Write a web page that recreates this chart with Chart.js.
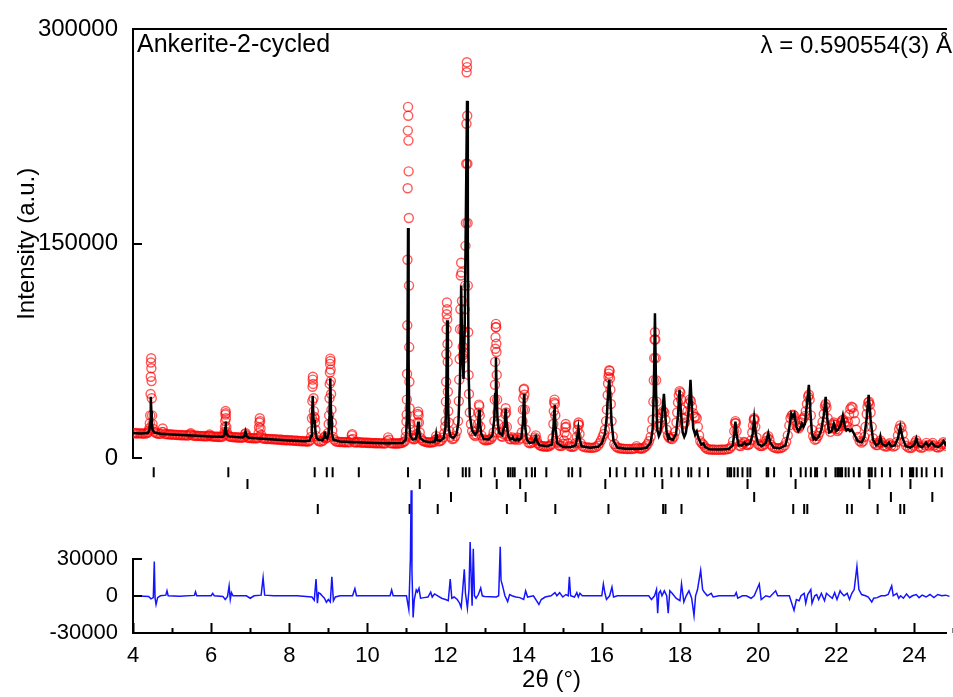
<!DOCTYPE html>
<html>
<head>
<meta charset="utf-8">
<title>Ankerite-2-cycled</title>
<script src="https://cdn.jsdelivr.net/npm/chart.js@4.4.1/dist/chart.umd.min.js"></script>
<style>
  html, body { margin: 0; padding: 0; background: #fff; }
</style>
</head>
<body>
<canvas id="refinement" width="953" height="697"></canvas>
<script>
// observed pattern [2theta, counts]
const observed = [
  [4.00,17600],[4.04,17400],[4.08,17700],[4.12,17300],[4.16,17600],[4.20,17400],[4.24,17200],[4.28,17500],[4.32,17300],[4.36,17600],[4.39,18200],[4.41,19500],
  [4.42,21000],[4.43,24500],[4.44,30000],[4.45,45000],[4.455,57000],[4.46,67000],[4.465,70000],[4.47,63000],[4.475,54000],[4.48,42000],[4.49,30000],[4.50,24000],[4.52,20500],[4.55,18500],[4.59,17600],[4.63,17300],[4.67,17100],[4.71,17200],[4.74,18500],[4.76,20800],[4.78,18300],[4.82,17000],[4.86,16900],[4.90,16700],[4.94,16800],[4.98,16500],
  [5.02,16700],[5.06,16400],[5.10,16500],[5.14,16200],[5.18,16400],[5.22,16100],[5.26,16300],[5.30,16000],[5.34,16200],[5.38,15900],[5.42,16000],[5.46,16800],[5.48,17600],[5.50,16500],[5.54,15800],[5.58,15900],[5.62,15600],[5.66,15800],[5.70,15500],[5.74,15700],[5.78,15400],[5.82,15600],[5.86,15300],[5.90,15400],[5.94,15800],[5.96,16700],[5.98,15800],
  [6.02,15200],[6.06,15300],[6.10,15000],[6.14,15200],[6.18,14900],[6.22,15100],[6.26,14900],[6.30,15300],[6.33,16500],[6.345,18500],[6.355,22000],[6.36,26000],[6.365,30500],[6.37,33100],[6.375,31500],[6.38,28000],[6.39,22000],[6.40,18500],[6.42,16500],[6.45,15500],[6.49,15000],[6.53,14800],[6.57,14900],[6.61,14600],[6.65,14700],[6.69,14500],[6.73,14600],[6.77,14300],[6.81,14500],[6.85,15000],[6.87,17000],[6.885,17600],[6.90,15800],[6.93,14500],[6.97,14200],
  [7.01,14300],[7.05,14000],[7.09,14100],[7.13,13900],[7.17,14000],[7.20,14500],[7.215,17600],[7.225,21600],[7.235,25000],[7.245,28000],[7.255,26000],[7.265,21000],[7.28,16500],[7.30,14300],[7.34,13700],[7.38,13800],[7.42,13500],[7.46,13600],[7.50,13400],[7.54,13500],[7.58,13200],[7.62,13400],[7.66,13100],[7.70,13200],[7.74,12900],[7.78,13100],[7.82,12800],[7.86,12900],[7.90,12600],[7.94,12800],[7.98,12500],
  [8.02,12700],[8.06,12400],[8.10,12500],[8.14,12200],[8.18,12400],[8.22,12100],[8.26,12200],[8.30,11900],[8.34,12100],[8.38,11800],[8.42,11900],[8.46,11700],[8.50,11900],[8.53,12500],[8.555,15000],[8.57,19000],[8.58,28000],[8.59,40000],[8.595,50000],[8.60,55000],[8.605,57000],[8.61,52000],[8.62,42000],[8.63,33000],[8.64,29000],[8.65,28000],[8.66,25000],[8.67,20000],[8.69,15500],[8.72,13000],[8.75,12000],[8.79,11600],[8.83,11800],[8.87,12500],[8.90,14500],[8.92,15500],[8.94,14000],[8.97,14500],[8.99,17500],
  [9.01,24000],[9.02,30000],[9.03,42000],[9.035,52000],[9.04,60000],[9.045,66000],[9.05,69700],[9.055,68000],[9.06,62000],[9.065,54000],[9.07,45000],[9.08,34000],[9.09,25000],[9.10,19500],[9.12,15000],[9.15,13000],[9.19,11800],[9.23,11500],[9.27,11600],[9.31,11300],[9.35,11500],[9.39,11200],[9.43,11400],[9.47,11100],[9.51,11300],[9.55,11100],[9.58,13000],[9.60,16000],[9.61,16900],[9.63,13500],[9.66,11300],[9.70,11000],[9.74,11200],[9.78,11500],[9.82,11000],[9.86,10900],[9.90,11100],[9.94,10800],[9.98,11000],
  [10.02,10700],[10.06,10900],[10.10,10600],[10.14,10800],[10.18,10500],[10.22,10700],[10.26,10500],[10.30,10600],[10.34,10400],[10.38,10600],[10.42,10300],[10.46,10500],[10.51,12000],[10.53,14600],[10.55,13000],[10.58,10600],[10.62,10400],[10.66,10500],[10.70,10300],[10.74,10500],[10.78,10300],[10.82,10500],[10.86,10600],[10.90,10900],[10.93,11500],[10.96,12000],[10.98,15000],[10.99,19000],
  [11.00,25700],[11.005,30500],[11.01,41000],[11.015,59000],[11.02,93000],[11.025,138900],[11.03,188900],[11.035,229200],[11.04,245800],[11.045,239600],[11.05,222200],[11.055,200700],[11.06,168100],[11.065,120800],[11.07,77800],[11.075,53500],[11.08,35000],[11.09,24000],[11.10,20000],[11.12,16000],[11.15,14000],[11.18,13200],[11.21,13500],[11.24,14500],[11.26,17000],[11.28,25000],[11.29,31000],[11.30,32600],[11.31,30000],[11.32,25000],[11.34,18000],[11.37,14000],[11.40,12500],[11.44,12000],[11.48,11500],[11.52,11300],[11.56,11000],[11.60,11200],[11.64,11000],[11.68,11300],[11.72,11600],[11.74,13000],[11.76,15500],[11.78,13500],[11.82,11800],[11.86,12000],[11.90,12800],[11.94,14500],[11.97,17500],[11.99,22000],
  [12.00,26000],[12.01,39600],[12.015,53500],[12.02,72900],[12.025,90300],[12.03,100700],[12.035,109000],[12.04,104200],[12.045,97200],[12.05,79900],[12.055,67400],[12.06,46500],[12.07,33000],[12.08,25000],[12.10,19000],[12.13,15000],[12.17,13500],[12.21,13800],[12.25,15500],[12.29,19000],[12.32,26000],[12.34,40000],[12.35,55000],[12.36,69400],[12.37,90300],[12.38,104200],[12.39,127800],[12.40,136800],[12.41,129900],[12.42,110000],[12.43,90000],[12.44,78000],[12.45,72200],[12.46,70000],[12.47,74000],[12.48,88200],[12.49,104200],[12.50,120800],[12.51,148600],[12.52,164600],[12.53,206000],[12.535,234000],[12.54,270000],[12.545,277000],[12.55,273600],[12.555,239600],[12.56,206000],[12.565,164600],[12.57,120800],[12.58,88200],[12.59,58300],[12.60,45000],[12.62,32000],[12.65,24000],[12.68,19000],[12.72,16500],[12.76,15500],[12.79,16500],[12.81,19000],[12.83,24000],[12.845,32000],[12.855,37500],[12.865,36500],[12.875,30000],[12.89,22000],[12.92,16000],[12.96,13500],
  [13.00,12800],[13.04,12500],[13.08,12800],[13.12,13000],[13.16,13500],[13.20,15000],[13.23,18000],[13.25,26000],[13.26,41000],[13.265,51400],[13.27,67400],[13.275,76600],[13.28,84700],[13.285,91700],[13.29,94000],[13.295,91700],[13.30,80100],[13.305,74300],[13.31,58300],[13.32,41000],[13.33,32000],[13.35,24000],[13.38,18000],[13.42,15500],[13.46,15000],[13.49,17000],[13.51,22000],[13.53,31000],[13.54,35000],[13.55,32000],[13.57,22000],[13.60,15500],[13.64,13500],[13.68,13200],[13.72,14500],[13.75,13500],[13.79,13000],[13.84,14500],[13.88,13000],[13.92,14000],[13.95,18000],[13.97,26000],[13.98,34000],[13.99,42000],
  [14.00,48000],[14.01,48600],[14.02,44400],[14.03,34000],[14.05,20000],[14.08,13500],[14.12,11000],[14.16,10500],[14.20,10800],[14.24,11500],[14.27,13000],[14.29,14500],[14.31,16000],[14.33,13000],[14.36,10500],[14.40,9200],[14.44,8700],[14.48,8400],[14.52,8300],[14.56,8200],[14.60,8100],[14.64,8400],[14.68,8900],[14.71,10000],[14.74,14000],[14.76,24000],[14.77,33000],[14.78,39000],[14.79,41000],[14.80,38000],[14.81,30000],[14.83,18000],[14.86,11000],[14.90,9000],[14.94,8500],[14.98,8700],
  [15.01,10000],[15.03,12500],[15.05,18000],[15.065,21500],[15.075,24000],[15.085,22000],[15.10,16000],[15.13,10500],[15.17,8600],[15.21,8100],[15.25,8000],[15.29,8400],[15.33,10500],[15.36,15000],[15.38,20000],[15.395,23500],[15.405,25000],[15.415,23500],[15.43,17000],[15.46,10500],[15.50,8500],[15.55,7800],[15.60,7600],[15.65,7500],[15.70,7400],[15.75,7300],[15.80,7500],[15.85,7800],[15.90,8800],[15.94,10500],[15.98,12500],
  [16.02,15000],[16.05,17000],[16.08,20000],[16.11,26000],[16.13,34000],[16.15,44200],[16.16,52300],[16.17,56900],[16.18,59200],[16.19,61600],[16.20,61000],[16.21,56000],[16.22,48000],[16.23,38000],[16.25,26000],[16.28,15300],[16.32,10000],[16.36,8300],[16.40,7500],[16.45,7000],[16.50,6800],[16.55,6700],[16.60,6600],[16.65,6500],[16.70,6600],[16.75,6400],[16.80,6600],[16.85,7000],[16.89,8500],[16.93,7200],[16.97,6800],
  [17.01,6700],[17.05,7000],[17.09,7600],[17.13,8500],[17.17,10000],[17.21,12000],[17.25,15000],[17.28,20000],[17.30,27000],[17.32,39600],[17.33,54600],[17.34,70100],[17.35,83100],[17.36,88200],[17.37,83100],[17.38,70100],[17.39,54600],[17.40,39600],[17.42,28000],[17.45,22000],[17.48,24000],[17.51,28500],[17.54,31500],[17.57,33000],[17.60,32000],[17.63,27000],[17.66,20000],[17.69,16000],[17.72,14500],[17.76,13800],[17.80,13500],[17.84,15000],[17.88,18500],[17.91,25000],[17.93,32000],[17.95,39000],[17.97,44000],[17.99,47000],
  [18.01,46000],[18.03,41000],[18.05,34000],[18.07,28000],[18.10,24000],[18.13,25000],[18.16,28500],[18.19,33000],[18.22,38000],[18.25,41000],[18.28,40000],[18.31,36000],[18.34,31500],[18.37,29000],[18.40,29000],[18.43,28000],[18.46,22000],[18.49,16000],[18.52,12000],[18.56,10500],[18.60,9500],[18.64,7800],[18.68,6800],[18.73,6300],[18.78,6100],[18.83,6000],[18.88,6100],[18.93,5900],[18.98,6000],
  [19.03,6000],[19.08,6100],[19.13,6000],[19.18,6200],[19.23,6400],[19.28,7000],[19.32,8500],[19.36,12000],[19.39,19000],[19.41,24500],[19.42,26000],[19.43,24500],[19.45,19000],[19.48,12000],[19.52,8800],[19.56,8600],[19.60,10000],[19.63,11500],[19.66,11000],[19.70,9500],[19.74,9300],[19.78,10000],[19.82,12500],[19.85,18000],[19.87,23000],[19.89,27000],[19.90,28000],[19.91,27000],[19.93,22000],[19.96,14500],
  [20.00,10000],[20.04,8800],[20.08,8500],[20.12,8800],[20.16,9800],[20.20,12000],[20.23,14500],[20.26,15500],[20.29,13000],[20.33,9500],[20.38,8000],[20.43,7300],[20.48,7000],[20.53,7000],[20.58,7200],[20.63,7800],[20.68,9000],[20.72,11500],[20.76,16000],[20.80,23000],[20.83,28000],[20.86,30000],[20.89,30500],[20.92,30000],[20.95,26000],[20.98,23000],
  [21.01,21500],[21.04,21000],[21.07,22500],[21.10,25000],[21.13,27000],[21.16,28000],[21.19,29500],[21.22,33000],[21.25,38000],[21.28,43000],[21.30,44400],[21.32,41000],[21.35,30000],[21.38,20000],[21.41,15500],[21.45,13000],[21.49,13500],[21.53,15500],[21.57,18000],[21.61,21000],[21.65,25500],[21.68,31000],[21.71,36500],[21.73,38000],[21.75,35500],[21.78,28000],[21.81,21000],[21.85,18500],[21.89,21000],[21.92,24000],[21.94,25000],[21.97,23500],
  [22.00,20500],[22.03,19000],[22.06,20000],[22.09,22500],[22.12,25000],[22.15,26500],[22.18,27000],[22.21,25000],[22.24,22500],[22.27,22500],[22.30,25500],[22.33,30500],[22.36,34500],[22.39,36000],[22.42,35500],[22.45,31500],[22.48,26000],[22.51,20000],[22.55,15000],[22.60,12000],[22.65,11000],[22.69,12000],[22.72,15000],[22.75,22000],[22.78,31000],[22.80,36000],[22.82,39000],[22.84,39600],[22.86,37500],[22.88,32000],[22.91,22000],[22.94,14000],[22.98,10500],
  [23.02,9300],[23.06,9200],[23.10,11000],[23.13,12500],[23.16,11000],[23.20,9000],[23.25,8300],[23.30,8200],[23.34,9500],[23.37,10500],[23.41,9000],[23.46,8200],[23.51,8800],[23.55,11500],[23.58,16000],[23.61,20500],[23.64,23000],[23.67,21500],[23.70,17000],[23.74,11500],[23.79,8800],[23.84,7600],[23.89,7200],[23.94,7500],[23.98,8800],
  [24.02,11000],[24.05,12500],[24.08,10500],[24.12,8200],[24.17,7300],[24.22,7600],[24.27,9000],[24.31,10800],[24.35,9200],[24.39,8300],[24.43,9500],[24.47,10800],[24.51,9000],[24.56,7800],[24.61,7500],[24.66,8200],[24.70,9800],[24.74,11200],[24.78,10000],[24.82,8500],[24.87,8000],[24.92,8200],[24.97,8000],[25.02,8100]
];

// calculated profile [2theta, counts]
const calculated = [
  [4.00,17600],[4.20,17400],[4.38,17700],[4.42,19500],[4.44,25000],[4.45,33000],[4.46,43000],[4.47,33000],[4.48,24000],[4.50,19800],[4.55,18000],[4.70,17200],[5.00,16700],[5.50,16000],[6.00,15300],[6.30,15100],[6.34,16500],[6.36,21000],[6.37,25700],[6.38,21000],[6.40,16800],[6.45,15300],[6.80,14600],[6.85,15500],[6.88,18700],[6.91,15500],[6.96,14400],[7.50,13300],[8.00,12500],[8.40,11900],
  [8.52,12300],[8.56,15500],[8.58,25000],[8.60,43700],[8.62,27000],[8.635,24500],[8.65,27000],[8.67,18500],[8.70,14200],[8.76,12800],[8.85,12700],[8.89,14500],[8.91,18700],[8.93,14800],[8.97,13800],[9.01,17500],[9.03,30000],[9.05,56000],[9.07,30000],[9.09,17500],[9.13,13000],[9.30,11700],[10.00,10900],[10.50,10500],[10.90,10700],
  [10.98,13000],[11.01,25000],[11.025,70000],[11.04,161000],[11.055,70000],[11.07,25000],[11.10,15500],[11.16,13200],[11.23,13300],[11.26,15500],[11.28,20500],[11.30,25700],[11.32,19500],[11.35,14200],[11.45,12000],[11.60,11300],[11.72,11700],[11.74,13200],[11.76,16700],[11.78,12800],[11.86,12200],[11.95,14000],
  [12.00,22000],[12.02,45000],[12.04,96500],[12.06,45000],[12.08,22000],[12.12,15500],[12.20,14200],[12.28,17000],[12.33,25000],[12.37,55000],[12.40,120800],[12.43,70000],[12.46,55500],[12.49,90000],[12.52,170000],[12.55,250000],[12.57,150000],[12.59,60000],[12.62,30000],[12.68,19500],[12.76,16500],[12.82,19000],[12.84,26000],[12.86,34000],[12.88,25000],[12.91,17500],[12.98,13500],
  [13.10,13200],[13.20,16000],[13.25,28000],[13.27,45000],[13.29,70500],[13.31,45000],[13.33,27000],[13.37,18000],[13.45,16000],[13.50,22000],[13.52,28000],[13.54,34700],[13.56,26000],[13.60,16000],[13.66,13200],[13.70,13500],[13.72,14500],[13.74,13200],[13.80,12700],[13.84,14000],[13.87,12700],[13.94,14200],[13.98,25000],
  [14.00,38000],[14.01,45000],[14.02,38000],[14.04,22000],[14.08,13000],[14.15,10700],[14.26,11200],[14.29,13500],[14.31,16700],[14.33,12500],[14.40,9200],[14.60,8400],[14.72,9600],[14.76,20000],[14.78,33000],[14.79,37500],[14.80,33000],[14.82,20000],[14.86,10500],[15.00,8000],[15.20,7700],[15.33,9000],[15.37,15000],[15.40,20800],[15.43,14000],[15.48,8500],[15.70,7300],[15.90,8000],
  [16.00,10500],[16.08,17000],[16.13,30000],[16.16,45000],[16.19,54800],[16.22,42000],[16.25,25000],[16.30,12000],[16.40,7500],[16.60,6600],[17.00,6600],[17.15,7500],[17.25,11000],[17.30,20000],[17.33,45000],[17.36,101400],[17.39,45000],[17.42,20000],[17.46,15500],[17.50,18000],[17.55,33000],[17.59,45000],[17.62,32000],[17.66,18000],[17.70,14000],[17.72,15500],[17.75,13500],[17.82,13000],[17.90,17000],[17.95,30000],[17.99,48000],
  [18.03,30000],[18.07,18000],[18.11,15000],[18.15,17500],[18.20,27000],[18.24,40000],[18.27,54800],[18.30,38000],[18.34,21000],[18.39,16500],[18.43,18700],[18.47,14500],[18.55,9500],[18.60,10500],[18.64,8000],[18.75,6300],[19.00,6100],[19.25,6500],[19.35,9000],[19.39,17000],[19.42,25700],[19.45,17000],[19.50,9000],[19.58,9000],[19.65,11000],[19.70,9500],[19.80,10500],[19.86,17000],[19.90,27800],[19.94,17000],
  [20.00,10000],[20.10,8500],[20.20,11000],[20.26,17400],[20.31,11000],[20.40,7500],[20.55,7000],[20.70,9000],[20.78,18000],[20.85,31250],[20.89,29000],[20.93,31250],[20.98,22000],[21.03,19000],[21.08,21000],[21.12,24300],[21.16,22000],[21.20,24000],[21.25,38000],[21.30,51400],[21.34,32000],[21.38,17000],[21.42,13500],[21.45,14500],[21.48,13000],[21.55,15000],[21.62,20000],[21.68,30000],[21.73,43000],[21.77,28000],[21.82,18000],[21.88,19000],[21.94,24300],
  [22.00,19000],[22.05,20000],[22.12,24000],[22.17,29900],[22.22,22000],[22.26,19500],[22.30,20500],[22.35,19000],[22.40,20000],[22.46,17000],[22.55,12000],[22.65,11000],[22.72,15000],[22.78,28000],[22.83,44400],[22.88,27000],[22.94,13000],[23.02,9000],[23.09,10500],[23.13,15300],[23.17,10000],[23.27,8500],[23.35,11000],[23.40,8500],[23.50,9000],[23.58,14000],[23.64,22200],[23.70,14000],[23.78,8500],[23.90,7500],
  [24.00,9500],[24.05,13900],[24.10,9000],[24.20,7800],[24.30,11000],[24.36,8500],[24.45,11000],[24.52,8500],[24.62,8000],[24.70,10000],[24.75,12000],[24.80,9500],[24.90,8300],[25.10,8000]
];

// observed minus calculated [2theta, counts]
const difference = [
  [4.00,0],[4.40,-500],[4.46,-2500],[4.52,-1500],[4.545,27600],[4.565,-2000],[4.59,-7100],[4.63,-1500],[4.70,0],[4.84,500],[4.87,4000],[4.90,0],[5.20,-300],[5.57,300],[5.60,3200],[5.63,0],[6.00,0],[6.04,2000],[6.08,0],[6.30,-500],[6.36,-3000],[6.42,-500],[6.46,7900],[6.49,-3000],[6.52,2500],[6.56,0],[6.90,0],[7.00,-2000],[7.10,0],[7.28,500],[7.33,14500],[7.37,500],[7.60,0],
  [8.20,0],[8.58,-1000],[8.64,-3500],[8.685,13400],[8.72,-6000],[8.75,2500],[8.80,1500],[8.84,0],[8.90,-2000],[8.95,-5200],[9.00,-3000],[9.05,-5000],[9.09,15300],[9.13,-4000],[9.18,-1000],[9.30,0],[9.62,0],[9.68,5800],[9.72,0],[10.00,0],[10.30,0],[10.58,0],[10.62,4700],[10.66,0],
  [11.00,0],[11.06,-11000],[11.10,30000],[11.12,85000],[11.14,20000],[11.17,-17400],[11.20,-3000],[11.25,4700],[11.28,3000],[11.32,6000],[11.36,-2000],[11.45,-1500],[11.55,-1000],[11.62,3000],[11.66,-1000],[11.72,1500],[11.80,0],[11.90,-2000],
  [12.00,-3000],[12.07,-4000],[12.12,13400],[12.16,-2000],[12.22,-1000],[12.30,-3000],[12.36,-6000],[12.40,-9500],[12.44,5000],[12.48,21300],[12.51,2000],[12.56,-10000],[12.60,5000],[12.63,43400],[12.66,10000],[12.68,-8000],[12.71,37900],[12.74,0],[12.78,-2000],[12.84,1000],[12.90,6300],[12.94,0],
  [13.00,-500],[13.30,-1000],[13.36,0],[13.40,39500],[13.42,12600],[13.46,8000],[13.52,0],[13.59,-4700],[13.64,1000],[13.70,0],[13.80,-1000],[13.90,-1500],[14.00,-3000],[14.05,4000],[14.10,-1000],[14.25,0],[14.39,-7000],[14.45,-3000],[14.55,-1000],[14.70,0],[14.80,2500],[14.85,0],[14.92,2500],
  [15.00,-1000],[15.08,1000],[15.14,0],[15.17,15300],[15.20,0],[15.30,-1000],[15.36,2500],[15.40,-1000],[15.44,2000],[15.50,0],[16.00,0],[16.04,9500],[16.08,2000],[16.12,-3000],[16.20,0],[16.26,7000],[16.30,-1000],[16.40,0],
  [17.20,0],[17.27,-3000],[17.35,0],[17.40,5000],[17.43,-14000],[17.46,2000],[17.50,4000],[17.54,0],[17.60,4000],[17.66,0],[17.70,-14000],[17.74,4000],[17.80,2000],[17.90,-2000],[18.00,-4000],[18.04,9500],[18.10,-5000],[18.16,0],[18.23,4000],[18.30,-2000],[18.36,-16000],[18.40,0],[18.45,5000],[18.53,20500],[18.58,5000],[18.62,3000],[18.70,0],[18.80,2000],[18.85,-1000],
  [19.00,0],[19.40,0],[19.44,2500],[19.48,-2000],[19.60,0],[19.70,0],[19.82,-2000],[19.90,0],[20.03,9500],[20.08,-3000],[20.20,0],[20.30,-1000],[20.45,4000],[20.50,0],[20.80,0],[20.92,-11800],[20.98,-3000],
  [21.05,-4000],[21.10,0],[21.18,2000],[21.22,-6000],[21.27,1000],[21.35,5000],[21.38,-6000],[21.45,0],[21.50,1000],[21.55,-3000],[21.62,2000],[21.70,-4000],[21.75,2000],[21.82,0],[21.90,-2000],[21.96,2500],
  [22.02,-3000],[22.10,4000],[22.14,2000],[22.20,0],[22.28,2000],[22.34,-3000],[22.40,2000],[22.46,5000],[22.53,23700],[22.58,5000],[22.65,1000],[22.75,0],[22.82,-1000],[22.91,-5000],[22.96,-2000],
  [23.05,-1500],[23.15,0],[23.25,0],[23.33,1000],[23.42,8000],[23.46,0],[23.55,2000],[23.60,-2000],[23.65,0],[23.72,-2000],[23.80,1500],[23.88,-1500],[23.95,0],
  [24.05,1000],[24.12,-1500],[24.20,500],[24.30,-1000],[24.40,1000],[24.50,-1500],[24.60,1000],[24.70,0],[24.80,500],[24.90,-500],[25.00,0]
];

// reflection positions (2theta) for each phase
const phase1 = [4.53, 6.44, 8.65, 8.96, 9.11, 9.78, 11.04, 12.07, 12.44, 12.52, 12.61, 12.91, 13.26, 13.60, 13.66, 13.72, 13.77,
  14.07, 14.21, 14.29, 14.58, 15.15, 15.24, 15.45, 16.21, 16.38, 16.60, 16.89, 17.06, 17.36, 17.53, 17.78, 17.97,
  18.21, 18.29, 18.50, 18.72, 19.22, 19.27, 19.31, 19.39, 19.48, 19.60, 19.73, 19.80, 20.22, 20.26, 20.41, 20.84,
  21.09, 21.22, 21.35, 21.46, 21.51, 21.73, 21.98, 22.03, 22.07, 22.12, 22.15, 22.24, 22.32, 22.45, 22.58, 22.60,
  22.83, 22.86, 22.91, 23.00, 23.17, 23.38, 23.68, 23.89, 23.94, 23.97, 24.06, 24.19, 24.31, 24.53, 24.70];
const phase2 = [6.93, 11.34, 13.31, 13.91, 16.09, 17.55, 19.73, 20.96, 22.85, 23.90];
const phase3 = [12.14, 14.05, 19.90, 23.40, 24.46];
const phase4 = [8.73, 11.08, 11.80, 13.57, 14.81, 16.17, 17.57, 17.63, 18.04, 20.90, 21.18, 21.26, 22.28, 22.40, 23.06, 23.64, 23.74];

// tick-row levels (pixels below the zero line) for the four phases
const rowLevel = [14, 26, 39, 51];
const FONT = '"Liberation Sans", Arial, sans-serif';

Chart.defaults.font.family = FONT;
Chart.defaults.color = '#000';

const toXY = pts => pts.map(([x, y]) => ({ x, y }));

function reflectionSet(positions, row) {
  return {
    data: positions.map(x => ({ x, y: rowLevel[row] })),
    yAxisID: 'yMark',
    pointStyle: 'line',
    pointRotation: 90,
    pointRadius: 5,
    pointBorderWidth: 2,
    borderColor: '#000',
    order: 0
  };
}

// inward tick marks, the 2θ axis title and the two labels inside the frame
const frameDecor = {
  id: 'frameDecor',
  afterDraw(chart) {
    const { ctx, chartArea, scales } = chart;
    const left = chartArea.left;
    ctx.save();
    ctx.strokeStyle = '#000';
    ctx.lineWidth = 2;
    ctx.beginPath();
    ['yInt', 'yDiff'].forEach(id => {
      const s = scales[id];
      s.ticks.forEach(t => {
        const py = Math.round(s.getPixelForValue(t.value));
        ctx.moveTo(left, py);
        ctx.lineTo(left + 9, py);
      });
    });
    const sx = scales.x;
    const base = chartArea.bottom;
    sx.ticks.forEach(t => {
      const px = Math.round(sx.getPixelForValue(t.value)) + 0.5;
      ctx.moveTo(px, base);
      ctx.lineTo(px, base - 10);
      const mx = Math.round(sx.getPixelForValue(t.value + 1)) + 0.5;
      ctx.moveTo(mx, base);
      ctx.lineTo(mx, base - 5);
    });
    ctx.stroke();

    ctx.fillStyle = '#000';
    ctx.font = '25px ' + FONT;
    ctx.textBaseline = 'alphabetic';
    ctx.textAlign = 'left';
    ctx.fillText('Ankerite-2-cycled', left + 4, 52);
    ctx.font = '24px ' + FONT;
    ctx.textAlign = 'right';
    ctx.fillText('λ = 0.590554(3) Å', chart.width - 1, 53);
    // axis title sits a little right of the visible frame centre
    ctx.textAlign = 'center';
    ctx.textBaseline = 'middle';
    ctx.fillText('2θ (°)', (chartArea.left + chartArea.right) / 2 + 12, 680);
    ctx.restore();
  }
};

const plain = v => String(v);

new Chart(document.getElementById('refinement'), {
  type: 'scatter',
  data: {
    datasets: [
      {
        data: toXY(calculated),
        showLine: true,
        borderColor: '#000',
        borderWidth: 2.5,
        pointRadius: 0,
        yAxisID: 'yInt',
        order: 0
      },
      {
        data: toXY(observed),
        pointStyle: 'circle',
        pointRadius: 4.5,
        pointBorderWidth: 1.4,
        borderColor: 'rgba(255, 0, 0, 0.65)',
        backgroundColor: 'rgba(0, 0, 0, 0)',
        yAxisID: 'yInt',
        order: 1
      },
      {
        data: toXY(difference),
        showLine: true,
        borderColor: '#1414ff',
        borderWidth: 1.5,
        pointRadius: 0,
        yAxisID: 'yDiff',
        clip: false,
        order: 0
      },
      reflectionSet(phase1, 0),
      reflectionSet(phase2, 1),
      reflectionSet(phase3, 2),
      reflectionSet(phase4, 3)
    ]
  },
  options: {
    responsive: false,
    devicePixelRatio: 1,
    animation: false,
    events: [],
    layout: { padding: 0 },
    plugins: { legend: { display: false }, tooltip: { enabled: false } },
    scales: {
      x: {
        type: 'linear',
        position: 'bottom',
        min: 4,
        max: 24.81,
        grid: { display: false, drawTicks: false },
        border: { display: true, color: '#000', width: 2 },
        ticks: { stepSize: 2, includeBounds: false, padding: 10, font: { size: 22 }, callback: plain },
        afterFit(s) { s.height = 64; }
      },
      xTop: {
        type: 'linear',
        position: 'top',
        min: 4,
        max: 24.81,
        grid: { display: false, drawTicks: false },
        border: { display: true, color: '#000', width: 2 },
        ticks: { display: false },
        afterFit(s) { s.height = 25; }
      },
      yInt: {
        type: 'linear',
        position: 'left',
        stack: 'panels',
        stackWeight: 432,
        weight: 3,
        min: 0,
        max: 300000,
        grid: { display: false, drawTicks: false },
        border: { display: true, color: '#000', width: 2 },
        ticks: { stepSize: 150000, includeBounds: false, autoSkip: false, padding: 15, font: { size: 24 }, callback: plain },
        title: { display: true, text: 'Intensity (a.u.)', font: { size: 24 }, padding: { top: 13, bottom: 0 } },
        afterFit(s) { s.width = 133; }
      },
      yMark: {
        type: 'linear',
        position: 'left',
        stack: 'panels',
        stackWeight: 101,
        weight: 2,
        min: 0,
        max: 101,
        reverse: true,
        grid: { display: false, drawTicks: false },
        border: { display: false },
        ticks: { display: false },
        afterFit(s) { s.width = 133; }
      },
      yDiff: {
        type: 'linear',
        position: 'left',
        stack: 'panels',
        stackWeight: 75,
        weight: 1,
        min: -30000,
        max: 30000,
        grid: { display: false, drawTicks: false },
        border: { display: true, color: '#000', width: 2 },
        ticks: { stepSize: 30000, includeBounds: false, autoSkip: false, padding: 15, font: { size: 22 }, callback: plain },
        afterFit(s) { s.width = 133; }
      }
    }
  },
  plugins: [frameDecor]
});
</script>
</body>
</html>
